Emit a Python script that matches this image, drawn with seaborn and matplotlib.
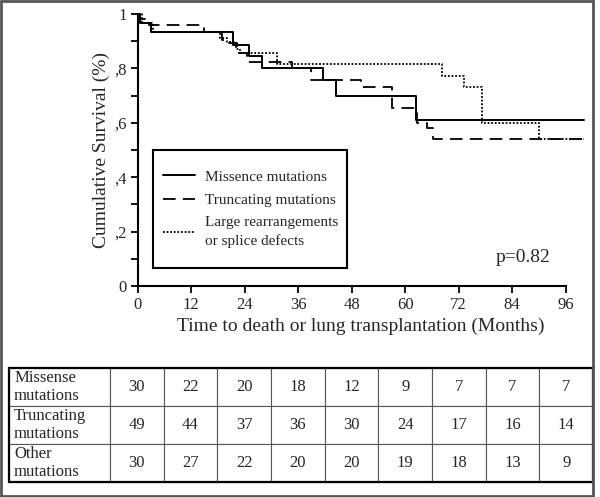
import numpy as np
import pandas as pd
import matplotlib
matplotlib.use("Agg")
import matplotlib.pyplot as plt
import seaborn as sns
from matplotlib.patches import Rectangle

# step survival curves (months, cumulative survival)
missense_t = [0, 0.5, 3, 21.5, 25, 28, 41.5, 44.5, 62.5, 100]
missense_s = [1.0, 0.967, 0.933, 0.886, 0.845, 0.80, 0.757, 0.70, 0.61, 0.61]

truncating_t = [0, 0.5, 2.5, 15, 19, 20.5, 22.3, 24.5, 34.6, 39, 50, 57, 62.6, 64.8, 66.3, 100]
truncating_s = [1.0, 0.98, 0.96, 0.935, 0.904, 0.892, 0.855, 0.825, 0.80, 0.757, 0.73, 0.655, 0.60, 0.58, 0.54, 0.54]

other_t = [0, 1, 3.5, 18.5, 20, 22, 23, 31.2, 68.2, 73.2, 77.3, 90, 100]
other_s = [1.0, 0.967, 0.933, 0.91, 0.895, 0.87, 0.855, 0.815, 0.772, 0.732, 0.60, 0.54, 0.54]

legend_labels = ["Missence mutations", "Truncating mutations",
                 "Large rearrangements\nor splice defects"]

x_ticks = [0, 12, 24, 36, 48, 60, 72, 84, 96]
y_ticks = [0, 0.2, 0.4, 0.6, 0.8, 1.0]
y_tick_labels = ["0", ",2", ",4", ",6", ",8", "1"]

# numbers at risk
risk_rows = ["Missense\nmutations", "Truncating\nmutations", "Other\nmutations"]
risk_missense = [30, 22, 20, 18, 12, 9, 7, 7, 7]
risk_truncating = [49, 44, 37, 36, 30, 24, 17, 16, 14]
risk_other = [30, 27, 22, 20, 20, 19, 18, 13, 9]

sns.set_style("ticks")
plt.rcParams["font.family"] = ["Liberation Serif", "DejaVu Serif"]

fig = plt.figure(figsize=(6.0, 4.97), dpi=100)
ax = fig.add_axes([0.2292, 0.4245, 0.7433, 0.5475])

curves = [
    (missense_t, missense_s, "-", legend_labels[0]),
    (truncating_t, truncating_s, (0, (7, 4)), legend_labels[1]),
    (other_t, other_s, (0, (1, 1)), legend_labels[2]),
]
for t, s, ls, lab in curves:
    df = pd.DataFrame({"t": t, "s": s})
    sns.lineplot(data=df, x="t", y="s", ax=ax, drawstyle="steps-post",
                 color="black", linestyle=ls, linewidth=1.4 if ls == "-" else 1.3,
                 label=lab, clip_on=False)

ax.set_xlim(0, 100)
ax.set_ylim(0, 1.0)
ax.set_xticks(x_ticks)
ax.set_xticklabels([str(v) for v in x_ticks], fontsize=12)
ax.set_yticks(y_ticks)
ax.set_yticklabels(y_tick_labels, fontsize=12)
ax.set_yticks(np.arange(0.1, 1.0, 0.2), minor=True)
ax.tick_params(axis="both", which="both", direction="out", length=5, width=1.3,
               color="black", pad=3)
ax.spines["bottom"].set_bounds(0, 96)
ax.spines["left"].set_bounds(0, 1)
for side in ["left", "bottom"]:
    ax.spines[side].set_linewidth(1.5)
    ax.spines[side].set_color("black")
sns.despine(ax=ax)
ax.set_xlabel("Time to death or lung transplantation (Months)", fontsize=14, labelpad=3)
ax.set_ylabel("Cumulative Survival (%)", fontsize=14, labelpad=3)

# legend entries without frame, box drawn separately (taller than the entries)
leg = ax.legend(loc="upper left", bbox_to_anchor=(0.058, 0.426), fontsize=11,
                frameon=False, handlelength=2.1, handletextpad=0.65,
                borderpad=0, labelspacing=0.62, borderaxespad=0)
for txt in leg.get_texts():
    txt.set_linespacing(1.4)
ax.add_patch(Rectangle((0.035, 0.066), 0.435, 0.434, transform=ax.transAxes,
                       fill=False, edgecolor="black", linewidth=1.5))

ax.text(0.864, 0.103, "p=0.82", transform=ax.transAxes, fontsize=14, ha="center", va="center")

# numbers-at-risk table
tab_ax = fig.add_axes([9 / 600, 15 / 497, 584 / 600, 114 / 497])
tab_ax.axis("off")
cells = []
for lab, vals in zip(risk_rows, [risk_missense, risk_truncating, risk_other]):
    cells.append([lab] + [str(v) for v in vals])
label_w = 101 / 584
col_w = (1 - label_w) / 9
table = tab_ax.table(cellText=cells, bbox=[0, 0, 1, 1],
                     colWidths=[label_w] + [col_w] * 9, cellLoc="center")
table.auto_set_font_size(False)
for (r, c), cell in table.get_celld().items():
    cell.set_fontsize(12)
    cell.set_linewidth(0.8)
    cell.set_edgecolor("#555555")
    if c == 0:
        cell.get_text().set_ha("left")
        cell.PAD = 0.05
        cell.get_text().set_linespacing(1.1)
tab_ax.add_patch(Rectangle((0, 0), 1, 1, transform=tab_ax.transAxes, fill=False,
                           edgecolor="black", linewidth=1.6, clip_on=False))

# frame around the whole figure
fig.patches.append(Rectangle((0.002, 0.002), 0.987, 0.996, transform=fig.transFigure,
                             fill=False, edgecolor="#555555", linewidth=2))

fig.savefig("out.png", dpi=100)
